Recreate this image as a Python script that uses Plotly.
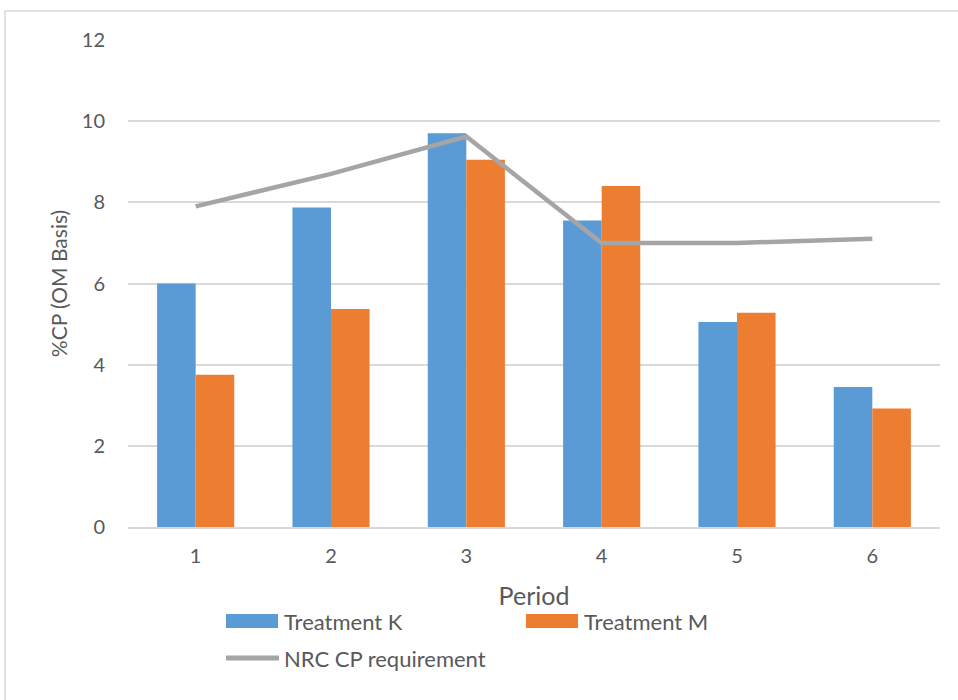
import plotly.graph_objects as go

# Data
periods = ["1", "2", "3", "4", "5", "6"]
treatment_k = [6.0, 7.87, 9.7, 7.55, 5.05, 3.45]
treatment_m = [3.75, 5.37, 9.05, 8.4, 5.28, 2.92]
nrc_cp_requirement = [7.9, 8.7, 9.62, 7.0, 7.0, 7.1]
series_names = ["Treatment K", "Treatment M", "NRC CP requirement"]
y_ticks = [0, 2, 4, 6, 8, 10, 12]

BLUE = "#5B9BD5"
ORANGE = "#ED7D31"
GRAY = "#A5A5A5"
TEXT = "#595959"
GRID = "#D9D9D9"
FONT = "Lato, 'Open Sans', sans-serif"

W, H = 958, 700
L, R, T, B = 128, 18, 40, 173
plot_w = W - L - R
plot_h = H - T - B


def px_x(p):
    return (p - L) / plot_w


def px_y(p):
    return (H - B - p) / plot_h


fig = go.Figure()
fig.add_trace(go.Bar(x=periods, y=treatment_k, name=series_names[0],
                     marker=dict(color=BLUE, line=dict(width=0)), showlegend=False))
fig.add_trace(go.Bar(x=periods, y=treatment_m, name=series_names[1],
                     marker=dict(color=ORANGE, line=dict(width=0)), showlegend=False))
fig.add_trace(go.Scatter(x=periods, y=nrc_cp_requirement, name=series_names[2],
                         mode="lines", line=dict(color=GRAY, width=4.5),
                         showlegend=False))

shapes = [
    # outer chart frame
    dict(type="rect", xref="paper", yref="paper",
         x0=px_x(5), x1=px_x(990), y0=px_y(740), y1=px_y(11),
         line=dict(color=GRID, width=1.5), fillcolor="rgba(0,0,0,0)", layer="below"),
    # legend swatches
    dict(type="rect", xref="paper", yref="paper",
         x0=px_x(226), x1=px_x(278), y0=px_y(628), y1=px_y(614),
         line=dict(width=0), fillcolor=BLUE),
    dict(type="rect", xref="paper", yref="paper",
         x0=px_x(526), x1=px_x(578), y0=px_y(628), y1=px_y(614),
         line=dict(width=0), fillcolor=ORANGE),
    dict(type="line", xref="paper", yref="paper",
         x0=px_x(226), x1=px_x(279), y0=px_y(658), y1=px_y(658),
         line=dict(color=GRAY, width=5)),
]

legend_font = dict(family=FONT, size=22, color=TEXT)
annotations = [
    dict(x=px_x(282), y=px_y(621), xref="paper", yref="paper", text=series_names[0],
         showarrow=False, xanchor="left", yanchor="middle", font=legend_font),
    dict(x=px_x(582), y=px_y(621), xref="paper", yref="paper", text=series_names[1],
         showarrow=False, xanchor="left", yanchor="middle", font=legend_font),
    dict(x=px_x(282), y=px_y(658), xref="paper", yref="paper", text=series_names[2],
         showarrow=False, xanchor="left", yanchor="middle", font=legend_font),
]

fig.update_layout(
    width=W, height=H,
    margin=dict(l=L, r=R, t=T, b=B, autoexpand=False),
    paper_bgcolor="white", plot_bgcolor="white",
    barmode="group", bargap=0.43, bargroupgap=0,
    font=dict(family=FONT, color=TEXT),
    shapes=shapes, annotations=annotations,
    showlegend=False,
    xaxis=dict(
        type="category",
        showline=True, linecolor=GRID, linewidth=1.5,
        ticks="", showgrid=False,
        ticklabelstandoff=10,
        tickfont=dict(family=FONT, size=20, color=TEXT),
        title=dict(text="Period", standoff=22,
                   font=dict(family=FONT, size=25, color=TEXT)),
    ),
    yaxis=dict(
        range=[0, 12], tickvals=y_ticks,
        showgrid=True, gridcolor=GRID, gridwidth=1.5,
        zeroline=False, showline=False, ticks="",
        ticklabelstandoff=22,
        tickfont=dict(family=FONT, size=20, color=TEXT),
        title=dict(text="%CP (OM Basis)", standoff=8,
                   font=dict(family=FONT, size=21, color=TEXT)),
    ),
)

fig.write_html("out.html")
